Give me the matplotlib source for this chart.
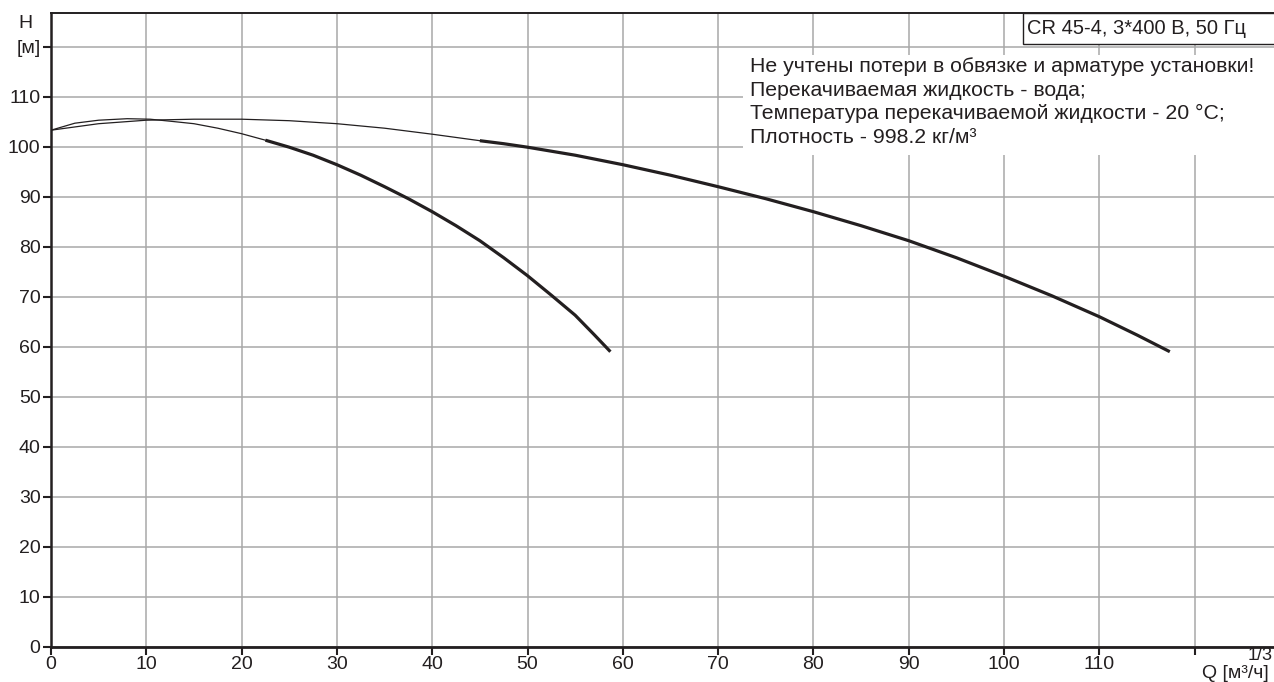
import numpy as np
import matplotlib.pyplot as plt
from matplotlib.patches import Rectangle

plt.rcParams['font.family'] = ['Liberation Sans', 'DejaVu Sans']

# Pump curve, full speed
q_full = [0, 5, 10, 15, 20, 25, 30, 35, 40, 45, 47.5, 50, 55, 60, 65, 70, 75, 80,
          85, 90, 95, 100, 105, 110, 114, 117.4]
h_full = [103.3, 104.6, 105.3, 105.5, 105.5, 105.2, 104.6, 103.7, 102.5, 101.2,
          100.6, 99.9, 98.3, 96.4, 94.3, 92.0, 89.6, 87.0, 84.2, 81.2, 77.8, 74.1,
          70.2, 66.0, 62.3, 59.0]
# Second (smaller) curve
q_half = [0, 2.5, 5, 8, 10.4, 12.5, 15, 17.5, 20, 22.5, 25, 27.5, 30, 32.5, 35,
          37.5, 40, 42.5, 45, 47.5, 50, 52.5, 55, 57, 58.7]
h_half = [103.3, 104.7, 105.3, 105.6, 105.5, 105.1, 104.6, 103.7, 102.6, 101.3,
          99.9, 98.3, 96.4, 94.3, 92.0, 89.6, 87.0, 84.2, 81.2, 77.8, 74.2, 70.3,
          66.3, 62.4, 59.0]
# where the thin part turns into the thick (working) part
q_full_work = 45
q_half_work = 22.5

x_ticks = list(range(0, 130, 10))
x_labels = [str(v) for v in range(0, 120, 10)] + ['']
y_ticks = list(range(0, 130, 10))
y_labels = [str(v) for v in range(0, 120, 10)] + ['[м]']

note_lines = ['Не учтены потери в обвязке и арматуре установки!',
              'Перекачиваемая жидкость - вода;',
              'Температура перекачиваемой жидкости - 20 °C;',
              'Плотность - 998.2 кг/м³']
title = 'CR 45-4, 3*400 В, 50 Гц'

W, H = 1274, 682
ink = '#231f20'
grid_c = '#a8a8a8'

def fx(px):
    return px / W

def fy(py):
    return 1 - py / H

fig = plt.figure(figsize=(W / 100, H / 100), dpi=100)
ax = fig.add_axes([fx(51), fy(646.7), fx(W - 51), (646.7 - 13) / H])
ax.set_xlim(0, (W - 51) / 9.53)
ax.set_ylim(0, (646.7 - 13) / 5.0)

ax.set_xticks(x_ticks)
ax.set_xticklabels(x_labels)
ax.set_yticks(y_ticks)
ax.set_yticklabels(y_labels)
ax.tick_params(axis='both', direction='out', length=5.5, width=1.5, color=ink,
               labelsize=14, labelcolor=ink, pad=2)
ax.tick_params(axis='x', pad=1)
ax.grid(True, color=grid_c, lw=1.1)
ax.set_axisbelow(True)

ax.spines['right'].set_visible(False)
ax.spines['left'].set_linewidth(1.8)
ax.spines['bottom'].set_linewidth(2.0)
ax.spines['top'].set_linewidth(1.4)
for s in ax.spines.values():
    s.set_color(ink)

qf = np.array(q_full); hf = np.array(h_full)
qh = np.array(q_half); hh = np.array(h_half)
m = qf <= q_full_work
ax.plot(qf[m], hf[m], color=ink, lw=0.9)
ax.plot(qf[qf >= q_full_work], hf[qf >= q_full_work], color=ink, lw=2.3,
        solid_capstyle='butt', solid_joinstyle='round')
m = qh <= q_half_work
ax.plot(qh[m], hh[m], color=ink, lw=0.9)
ax.plot(qh[qh >= q_half_work], hh[qh >= q_half_work], color=ink, lw=2.3,
        solid_capstyle='butt', solid_joinstyle='round')

# axis captions
fig.text(fx(25), fy(23), 'H', ha='center', va='center', fontsize=14, color=ink)
fig.text(fx(1273), fy(656), '1/3', ha='right', va='center', fontsize=13, color=ink)
fig.text(fx(1235), fy(673), 'Q [м³/ч]', ha='center', va='center', fontsize=14, color=ink)

# note block on a white background
fig.patches.append(Rectangle((fx(743), fy(155)), fx(W - 743), (155 - 55) / H,
                             transform=fig.transFigure, facecolor='white',
                             edgecolor='none', zorder=2))
fig.text(fx(750), fy(57), '\n'.join(note_lines), ha='left', va='top',
         fontsize=15.3, color=ink, linespacing=1.3, zorder=3)

# title box top right
fig.patches.append(Rectangle((fx(1023), fy(44)), fx(W - 1023 + 5), (44 - 13) / H,
                             transform=fig.transFigure, facecolor='white',
                             edgecolor=ink, lw=1.0, zorder=2))
fig.text(fx(1027), fy(29), title, ha='left', va='center', fontsize=14.5, color=ink,
         zorder=3)

fig.savefig('out.png', dpi=100)
